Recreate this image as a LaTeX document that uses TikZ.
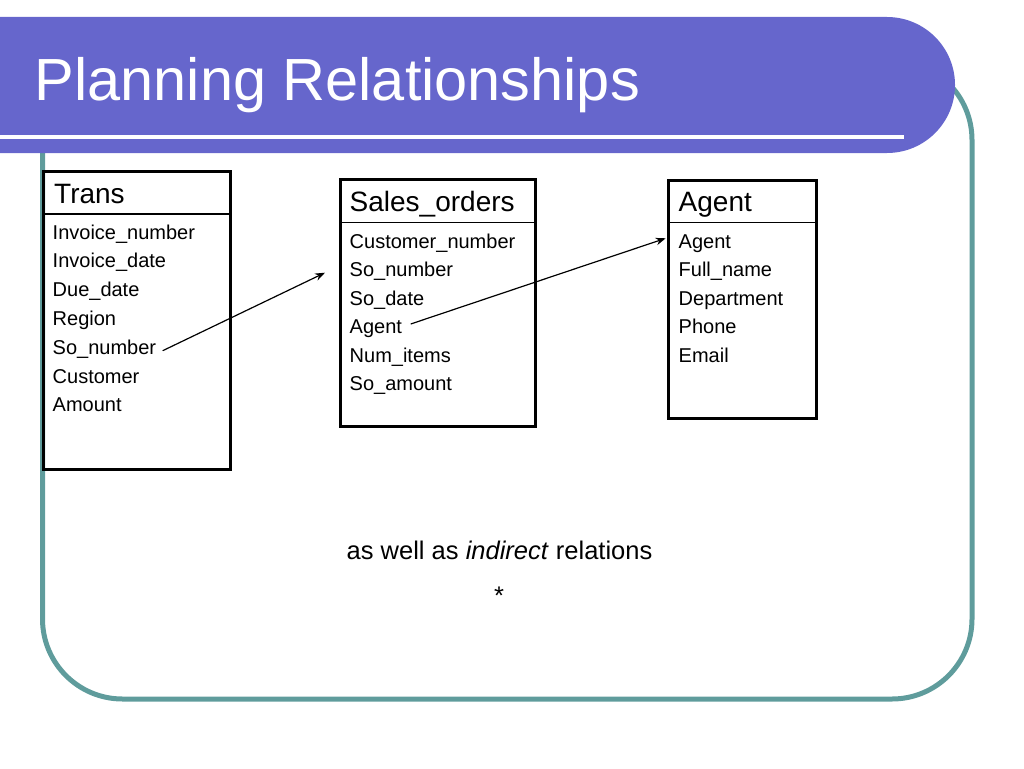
\documentclass[tikz,border=0pt]{standalone}
\usepackage{fontspec}
\setmainfont{Liberation Sans}
\usetikzlibrary{arrows.meta}
\definecolor{bannercol}{HTML}{6666CC}
\definecolor{framecol}{HTML}{5F9C9C}
\begin{document}
\begin{tikzpicture}[x=1pt,y=-1pt,
  tbl/.style={draw=black,line width=3pt,rectangle,inner sep=0pt,outer sep=0pt,anchor=north west},
  sepline/.style={line width=1.4pt},
  hdr/.style={anchor=base west,inner sep=0pt,font=\fontsize{28}{32}\selectfont},
  fld/.style={anchor=base west,inner sep=0pt,font=\fontsize{20}{24}\selectfont},
  arr/.style={line width=1.2pt,-{Stealth[length=10pt,width=7.5pt]}}]
\useasboundingbox (0,0) rectangle (1024,768);
% frame
\draw[framecol,line width=5pt,rounded corners=80pt] (42.5,60) rectangle (972,699);
% banner
\begin{scope}
\clip (0,0) rectangle (1024,768);
\fill[bannercol,rounded corners=68pt] (-100,17) rectangle (955,153);
\end{scope}
\draw[white,line width=4pt] (0,136.5) -- (904,136.5);
\node[anchor=base west,inner sep=0pt,text=white,font=\fontsize{59.5}{70}\selectfont] (title) at (34.5,100) {Planning Relationships};
% Trans
\node[tbl,minimum width=187.5pt,minimum height=297.5pt] (trans) at (43,171.5) {};
\draw[sepline] (43,214) -- (230.5,214);
\node[hdr] (thdr) at (54,203) {Trans};
\node[fld] (t1) at (52.5,239) {Invoice\_number};
\node[fld] (t2) at (52.5,267.8) {Invoice\_date};
\node[fld] (t3) at (52.5,296.6) {Due\_date};
\node[fld] (t4) at (52.5,325.4) {Region};
\node[fld] (tso) at (52.5,354.2) {So\_number};
\node[fld] (t6) at (52.5,383) {Customer};
\node[fld] (t7) at (52.5,411.8) {Amount};
% Sales_orders
\node[tbl,minimum width=195pt,minimum height=247.5pt] (sales) at (340,179) {};
\draw[sepline] (340,222.7) -- (535,222.7);
\node[hdr] (shdr) at (349.5,211.7) {Sales\_orders};
\node[fld] (s1) at (349.5,248.3) {Customer\_number};
\node[fld] (sso) at (349.5,276.8) {So\_number};
\node[fld] (s3) at (349.5,305.3) {So\_date};
\node[fld] (sag) at (349.5,333.8) {Agent};
\node[fld] (s5) at (349.5,362.3) {Num\_items};
\node[fld] (s6) at (349.5,390.8) {So\_amount};
% Agent
\node[tbl,minimum width=147.5pt,minimum height=238.5pt] (agent) at (668.5,180) {};
\draw[sepline] (668.5,222.7) -- (816,222.7);
\node[hdr] (ahdr) at (678.5,211.7) {Agent};
\node[fld] (aag) at (678.5,248.3) {Agent};
\node[fld] (a2) at (678.5,276.8) {Full\_name};
\node[fld] (a3) at (678.5,305.3) {Department};
\node[fld] (a4) at (678.5,333.8) {Phone};
\node[fld] (a5) at (678.5,362.3) {Email};
% arrows
\coordinate (e1) at (325,272.7);
\coordinate (e2) at (665.7,238.3);
\coordinate (b1) at (162.7,350.7);
\coordinate (b2) at (410.7,324);
\draw[arr] (b1) -- (e1);
\draw[arr] (b2) -- (e2);
% bottom text
\node[anchor=base,inner sep=0pt,font=\fontsize{25.5}{30}\selectfont] (note) at (499.5,559.3) {as well as \textit{indirect} relations};
\node[anchor=base,inner sep=0pt,font=\fontsize{25.5}{30}\selectfont] (star) at (499,604) {*};
\end{tikzpicture}
\end{document}
